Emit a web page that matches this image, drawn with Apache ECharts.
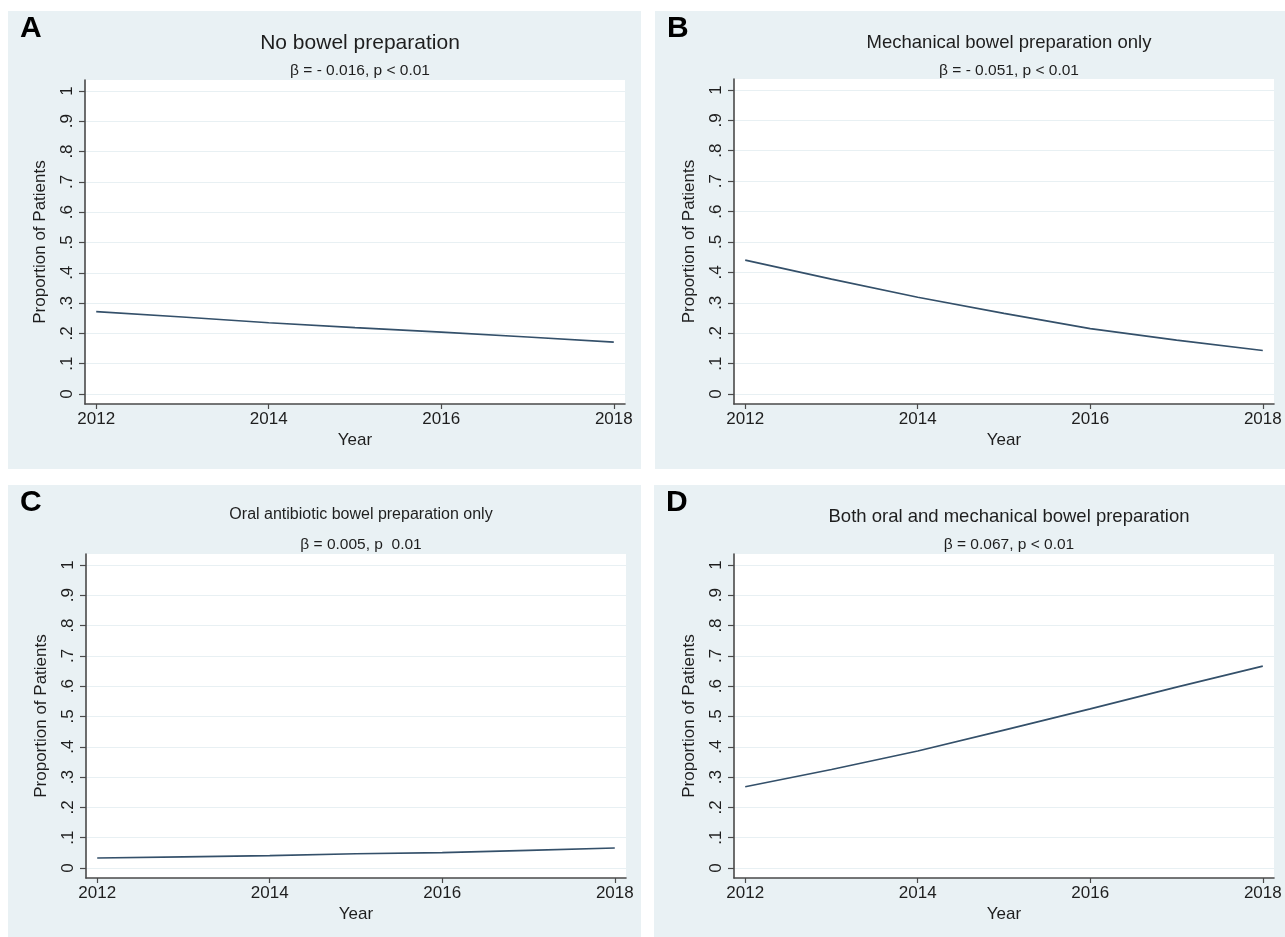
<!DOCTYPE html>
<html>
<head>
<meta charset="utf-8">
<title>Bowel preparation trends</title>
<script src="https://cdn.jsdelivr.net/npm/echarts@6/dist/echarts.min.js"></script>
<style>
  html, body { margin: 0; padding: 0; background: #ffffff; }
  #chart { width: 1285px; height: 937px; }
</style>
</head>
<body>
<div id="chart"></div>
<script>
// Data
const years = [2012, 2013, 2014, 2015, 2016, 2017, 2018];
const noPrep = [0.272, 0.254, 0.235, 0.219, 0.204, 0.188, 0.171];
const mechOnly = [0.440, 0.378, 0.318, 0.265, 0.215, 0.177, 0.143];
const oralOnly = [0.033, 0.037, 0.041, 0.047, 0.051, 0.058, 0.066];
const bothPrep = [0.268, 0.325, 0.386, 0.455, 0.525, 0.597, 0.666];

const xTicks = [2012, 2014, 2016, 2018];
const yTicks = [0, 0.1, 0.2, 0.3, 0.4, 0.5, 0.6, 0.7, 0.8, 0.9, 1];
const yTickLabels = ['0', '.1', '.2', '.3', '.4', '.5', '.6', '.7', '.8', '.9', '1'];

const panelLetters = ['A', 'B', 'C', 'D'];
const panelTitles = [
  'No bowel preparation',
  'Mechanical bowel preparation only',
  'Oral antibiotic bowel preparation only',
  'Both oral and mechanical bowel preparation'
];
const panelSubtitles = [
  '\u03b2 = - 0.016, p < 0.01',
  '\u03b2 = - 0.051, p < 0.01',
  '\u03b2 = 0.005, p  0.01',
  '\u03b2 = 0.067, p < 0.01'
];
const panelSeries = [noPrep, mechOnly, oralOnly, bothPrep];

// Layout (pixels)
const FONT = '"Liberation Sans", Arial, Helvetica, sans-serif';
const BG = '#e9f1f4';
const LINE = '#34506a';
const AXIS = '#4a4a4a';
const TEXT = '#1e1e1e';
const panels = [
  { bx: 8, by: 11, bw: 633, bh: 458, left: 85, top: 80, titleSize: 21 },
  { bx: 655, by: 11, bw: 630, bh: 458, left: 734, top: 79, titleSize: 18.5 },
  { bx: 8, by: 485, bw: 633, bh: 452, left: 86, top: 554, titleSize: 16 },
  { bx: 654, by: 485, bw: 631, bh: 452, left: 734, top: 554, titleSize: 18.5 }
];
const plotW = 540;

function yLabel(v) {
  let best = 0;
  yTicks.forEach((t, i) => {
    if (Math.abs(t - v) < Math.abs(yTicks[best] - v)) best = i;
  });
  return yTickLabels[best];
}

const chart = echarts.init(document.getElementById('chart'), null, { renderer: 'canvas' });

const graphic = [];
const title = [];
const grid = [];
const xAxis = [];
const yAxis = [];
const series = [];

panels.forEach((p, i) => {
  graphic.push({
    type: 'rect',
    z: -10,
    silent: true,
    shape: { x: p.bx, y: p.by, width: p.bw, height: p.bh },
    style: { fill: BG }
  });
  graphic.push({
    type: 'text',
    z: 10,
    silent: true,
    x: p.bx + 12,
    y: p.by + 3,
    style: {
      text: panelLetters[i],
      fill: '#000',
      fontSize: 30,
      fontWeight: 'bold',
      fontFamily: FONT
    }
  });

  const cx = p.left + plotW / 2;
  title.push({
    text: panelTitles[i],
    left: cx,
    top: p.by + 17,
    textAlign: 'center',
    textStyle: { fontSize: p.titleSize, fontWeight: 'normal', color: TEXT, fontFamily: FONT }
  });
  title.push({
    text: panelSubtitles[i],
    left: cx,
    top: p.by + 47,
    textAlign: 'center',
    textStyle: { fontSize: 15.5, fontWeight: 'normal', color: TEXT, fontFamily: FONT }
  });

  // plot region runs a little past 0 and 1, like the original
  const plotH = (p.top === 79 ? 325 : 324);
  grid.push({
    left: p.left,
    top: p.top,
    width: plotW,
    height: plotH,
    show: true,
    backgroundColor: '#ffffff',
    borderWidth: 0,
    containLabel: false
  });

  xAxis.push({
    type: 'value',
    gridIndex: i,
    min: 2011.87,
    max: 2018.13,
    name: 'Year',
    nameLocation: 'middle',
    nameGap: 28,
    nameTextStyle: { fontSize: 17, color: TEXT, fontFamily: FONT },
    axisLine: { show: true, onZero: false, lineStyle: { color: AXIS, width: 1.6 } },
    axisTick: { show: true, inside: false, length: 5, customValues: xTicks, lineStyle: { color: AXIS, width: 1.2 } },
    axisLabel: {
      customValues: xTicks,
      margin: 7,
      fontSize: 17,
      color: TEXT,
      fontFamily: FONT,
      formatter: (v) => String(Math.round(v))
    },
    splitLine: { show: false }
  });

  yAxis.push({
    type: 'value',
    gridIndex: i,
    min: -0.033,
    max: 1.036,
    name: 'Proportion of Patients',
    nameLocation: 'middle',
    nameGap: 36,
    nameRotate: 90,
    nameTextStyle: { fontSize: 17, color: TEXT, fontFamily: FONT },
    axisLine: { show: true, onZero: false, lineStyle: { color: AXIS, width: 1.6 } },
    axisTick: { show: true, inside: false, length: 6, customValues: yTicks, lineStyle: { color: AXIS, width: 1.2 } },
    axisLabel: {
      customValues: yTicks,
      rotate: 90,
      margin: 9,
      fontSize: 17,
      color: TEXT,
      fontFamily: FONT,
      formatter: yLabel
    },
    splitLine: { show: true, lineStyle: { color: '#e8f0f3', width: 1 } }
  });

  series.push({
    type: 'line',
    xAxisIndex: i,
    yAxisIndex: i,
    showSymbol: false,
    silent: true,
    lineStyle: { color: LINE, width: 1.7 },
    data: years.map((y, k) => [y, panelSeries[i][k]])
  });
});

chart.setOption({
  backgroundColor: '#ffffff',
  animation: false,
  graphic: graphic,
  title: title,
  grid: grid,
  xAxis: xAxis,
  yAxis: yAxis,
  series: series
});
</script>
</body>
</html>
